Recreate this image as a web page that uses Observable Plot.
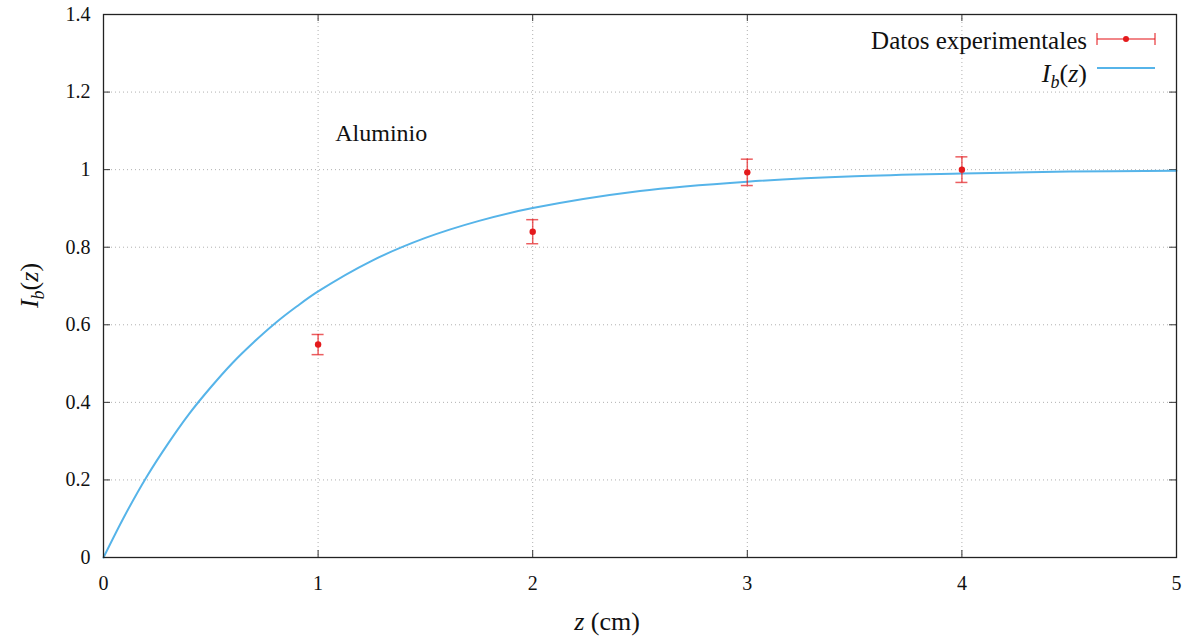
<!DOCTYPE html>
<html><head><meta charset="utf-8">
<script src="https://cdn.jsdelivr.net/npm/d3@7"></script>
<script src="https://cdn.jsdelivr.net/npm/@observablehq/plot@0.6"></script>
</head><body style="margin:0;padding:0;background:#fff">
<div style="position:absolute;left:0;top:606px;width:1185px;height:32px;font-family:'Liberation Serif';font-size:26px;line-height:32px;color:#111;"><span style="position:absolute;left:607px;top:0;transform:translateX(-50%);white-space:nowrap;font-family:'Liberation Serif'"><i style="font-family:'Liberation Serif'">z</i> (cm)</span></div>
<div id="chart" style="position:absolute;left:0;top:0;width:1185px;height:606px;font-family:'Liberation Serif'"></div>
<script>
// Experimental data
const zExp = [1, 2, 3, 4];
const iExp = [0.549, 0.840, 0.993, 1.000];
const errExp = [0.026, 0.031, 0.034, 0.033];
// Model curve I_b(z)
const zCurve = [0, 0.1, 0.2, 0.3, 0.4, 0.5, 0.6, 0.7, 0.8, 0.9, 1.0, 1.25, 1.5, 1.75, 2.0, 2.5, 3.0, 3.5, 4.0, 4.5, 5.0];
const iCurve = [0, 0.109, 0.207, 0.293, 0.371, 0.439, 0.501, 0.555, 0.604, 0.647, 0.686, 0.765, 0.824, 0.868, 0.901, 0.945, 0.969, 0.983, 0.990, 0.995, 0.997];
const xTicks = [0, 1, 2, 3, 4, 5];
const yTicks = [0, 0.2, 0.4, 0.6, 0.8, 1, 1.2, 1.4];
const annotation = "Aluminio";
const legendLabels = ["Datos experimentales", "I_b(z)"];

const expData = zExp.map((z, i) => ({z, v: iExp[i], lo: iExp[i] - errExp[i], hi: iExp[i] + errExp[i]}));
const curveData = zCurve.map((z, i) => ({z, v: iCurve[i]}));

const W = 1185, H = 606;
const mL = 103, mR = 9, mT = 14, mB = 49;
const innerW = W - mL - mR, innerH = H - mT - mB;
const RED = "#e41a1c", BLUE = "#56b4e9";
const FONT = "Liberation Serif";

const gridStyle = {stroke: "#b0b0b0", strokeOpacity: 1, strokeDasharray: "1,3", strokeWidth: 1};
const tk = 7;

const plot = Plot.plot({
  width: W, height: H,
  marginLeft: mL, marginRight: mR, marginTop: mT, marginBottom: mB,
  style: {fontFamily: FONT, fontSize: "20px"},
  x: {domain: [0, 5], ticks: xTicks},
  y: {domain: [0, 1.4], ticks: yTicks},
  marks: [
    Plot.gridX(xTicks.slice(1, -1), gridStyle),
    Plot.gridY(yTicks.slice(1, -1), gridStyle),
    Plot.ruleX(xTicks, {insetTop: innerH - tk, stroke: "#333"}),
    Plot.ruleX(xTicks, {insetBottom: innerH - tk, stroke: "#333"}),
    Plot.ruleY(yTicks, {insetRight: innerW - tk, stroke: "#333"}),
    Plot.ruleY(yTicks, {insetLeft: innerW - tk, stroke: "#333"}),
    Plot.axisX(xTicks, {tickSize: 0, tickPadding: 18, fontSize: 20, label: null, tickFormat: d => String(d), fill: "#111"}),
    Plot.axisY(yTicks, {tickSize: 0, tickPadding: 13, fontSize: 20, label: null, tickFormat: d => String(d), fill: "#111"}),
    Plot.line(curveData, {x: "z", y: "v", stroke: BLUE, strokeWidth: 2, curve: "catmull-rom"}),
    Plot.ruleX(expData, {x: "z", y1: "lo", y2: "hi", stroke: RED, strokeOpacity: 0.7, strokeWidth: 1.5}),
    Plot.ruleY(expData, {y: "lo", x1: "z", x2: "z", insetLeft: -6, insetRight: -6, stroke: RED, strokeOpacity: 0.7, strokeWidth: 1.5}),
    Plot.ruleY(expData, {y: "hi", x1: "z", x2: "z", insetLeft: -6, insetRight: -6, stroke: RED, strokeOpacity: 0.7, strokeWidth: 1.5}),
    Plot.dot(expData, {x: "z", y: "v", r: 3.2, fill: RED, stroke: "none"}),
    Plot.text([annotation], {x: 1.08, y: 1.093, text: d => d, textAnchor: "start", fontSize: 24, fill: "#111"}),
    Plot.frame({stroke: "#222", strokeWidth: 1.3})
  ]
});

const svg = d3.select(plot);
const yl = svg.append("text")
  .attr("transform", `translate(38,${mT + innerH / 2}) rotate(-90)`)
  .attr("text-anchor", "middle").attr("font-size", 26).attr("fill", "#111");
yl.append("tspan").attr("font-style", "italic").text("I");
yl.append("tspan").attr("font-style", "italic").attr("font-size", 18).attr("dy", 6).text("b");
yl.append("tspan").attr("dy", -6).text("(");
yl.append("tspan").attr("font-style", "italic").text("z");
yl.append("tspan").text(")");

const lg = svg.append("g").attr("fill", "#111");
lg.append("text").attr("x", 1087).attr("y", 49).attr("text-anchor", "end").attr("font-size", 25).text(legendLabels[0]);
const t2 = lg.append("text").attr("x", 1087).attr("y", 82).attr("text-anchor", "end").attr("font-size", 26);
t2.append("tspan").attr("font-style", "italic").text("I");
t2.append("tspan").attr("font-style", "italic").attr("font-size", 18).attr("dy", 6).text("b");
t2.append("tspan").attr("dy", -6).text("(");
t2.append("tspan").attr("font-style", "italic").text("z");
t2.append("tspan").text(")");
const eb = lg.append("g").attr("stroke", RED).attr("stroke-opacity", 0.7).attr("stroke-width", 1.5);
eb.append("line").attr("x1", 1097).attr("x2", 1155).attr("y1", 39).attr("y2", 39);
eb.append("line").attr("x1", 1097).attr("x2", 1097).attr("y1", 33).attr("y2", 45);
eb.append("line").attr("x1", 1155).attr("x2", 1155).attr("y1", 33).attr("y2", 45);
lg.append("circle").attr("cx", 1126).attr("cy", 39).attr("r", 3).attr("fill", RED);
lg.append("line").attr("x1", 1097).attr("x2", 1155).attr("y1", 68).attr("y2", 68).attr("stroke", BLUE).attr("stroke-width", 2);

svg.selectAll("text").attr("font-family", FONT).style("font-family", "'Liberation Serif'");
document.getElementById("chart").appendChild(plot);
</script>
</body></html>
